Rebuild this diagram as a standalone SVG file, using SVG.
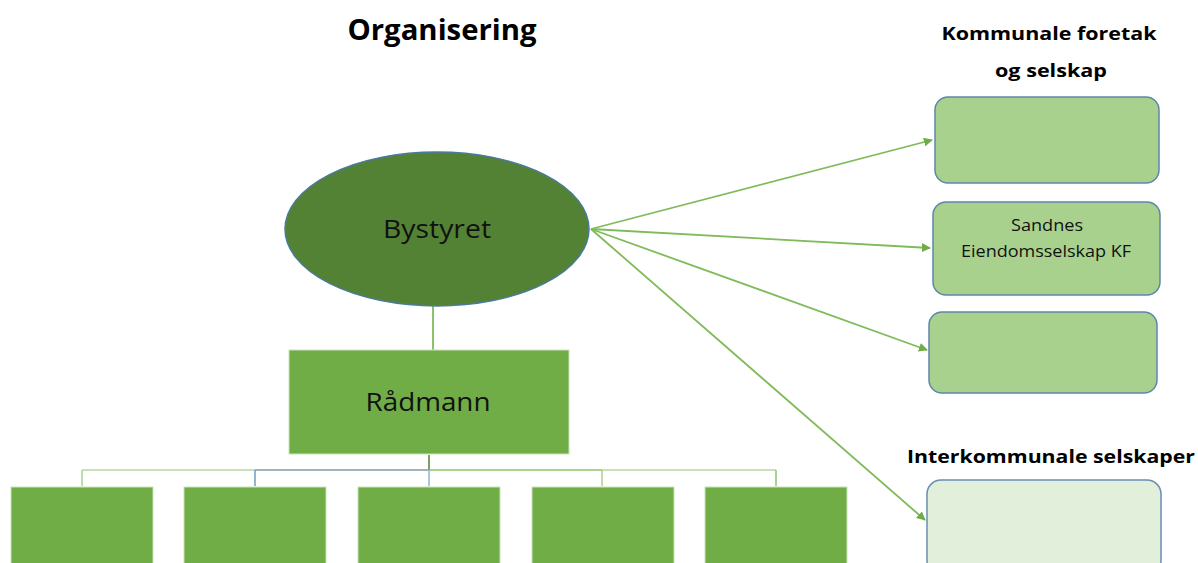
<svg xmlns="http://www.w3.org/2000/svg" width="1198" height="563" viewBox="0 0 1198 563">
  <defs>
    <marker id="arrow" viewBox="0 0 10 10" refX="9" refY="5" markerWidth="9" markerHeight="9" orient="auto" markerUnits="userSpaceOnUse">
      <path d="M0,0 L10,5 L0,10 z" fill="#70ad47"/>
    </marker>
    <style>
      .title { font-family: "Open Sans", "Liberation Sans", sans-serif; font-weight: bold; fill: #000; text-anchor: middle; }
      .label { font-family: "Open Sans", "Liberation Sans", sans-serif; fill: #111; text-anchor: middle; }
      .unit { fill: #a9d18e; stroke: #5f86aa; stroke-width: 1.5; }
      .unit-light { fill: #e2efda; stroke: #6a8fb0; stroke-width: 1.5; }
      .dept { fill: #70ad47; stroke: #c9e3b7; stroke-width: 1; }
      .link { stroke: #7fbb5a; stroke-width: 1.8; fill: none; }
      .bus { stroke-width: 1.5; fill: none; }
    </style>
  </defs>

  <rect width="1198" height="563" fill="#ffffff"/>

  <!-- headings -->
  <text class="title" x="442" y="40" font-size="28" textLength="189" lengthAdjust="spacingAndGlyphs">Organisering</text>
  <text class="title" x="1049" y="40" font-size="18" textLength="215" lengthAdjust="spacingAndGlyphs">Kommunale foretak</text>
  <text class="title" x="1051" y="77" font-size="18" textLength="112" lengthAdjust="spacingAndGlyphs">og selskap</text>
  <text class="title" x="1051" y="463" font-size="18" textLength="288" lengthAdjust="spacingAndGlyphs">Interkommunale selskaper</text>

  <!-- connectors -->
  <g id="connectors">
    <line class="link" x1="433" y1="306" x2="433" y2="350" stroke="#70ad47"/>
    <line class="link" x1="591" y1="229" x2="932" y2="140" marker-end="url(#arrow)"/>
    <line class="link" x1="591" y1="229" x2="930" y2="248" marker-end="url(#arrow)"/>
    <line class="link" x1="591" y1="229" x2="927" y2="350" marker-end="url(#arrow)"/>
    <line class="link" x1="591" y1="229" x2="925" y2="520" marker-end="url(#arrow)"/>
    <!-- staff bus below Rådmann -->
    <line class="bus" x1="429" y1="455" x2="429" y2="470" stroke="#548235"/>
    <line class="bus" x1="82" y1="470" x2="255" y2="470" stroke="#b5d8a0"/>
    <line class="bus" x1="255" y1="470" x2="429" y2="470" stroke="#7f9fa3"/>
    <line class="bus" x1="429" y1="470" x2="602" y2="470" stroke="#8cc26c"/>
    <line class="bus" x1="602" y1="470" x2="776" y2="470" stroke="#b5d8a0"/>
    <line class="bus" x1="82" y1="470" x2="82" y2="486" stroke="#a9d18e"/>
    <line class="bus" x1="255" y1="470" x2="255" y2="486" stroke="#6f9cc4"/>
    <line class="bus" x1="429" y1="470" x2="429" y2="486" stroke="#8fb4d4"/>
    <line class="bus" x1="602" y1="470" x2="602" y2="486" stroke="#a9d18e"/>
    <line class="bus" x1="776" y1="470" x2="776" y2="486" stroke="#8cc26c"/>
  </g>

  <g id="bystyret">
    <ellipse cx="437" cy="229" rx="152" ry="77" fill="#548235" stroke="#4a7a9c" stroke-width="1.5"/>
    <text class="label" x="437" y="238" font-size="25" textLength="108" lengthAdjust="spacingAndGlyphs">Bystyret</text>
  </g>

  <g id="radmann">
    <rect x="289" y="350" width="280" height="104" fill="#70ad47" stroke="#c9e3b7" stroke-width="1"/>
    <text class="label" x="428" y="411" font-size="26" textLength="125" lengthAdjust="spacingAndGlyphs">Rådmann</text>
  </g>

  <g id="dept-1"><rect class="dept" x="11" y="487" width="142" height="80"/></g>
  <g id="dept-2"><rect class="dept" x="184" y="487" width="142" height="80"/></g>
  <g id="dept-3"><rect class="dept" x="358" y="487" width="142" height="80"/></g>
  <g id="dept-4"><rect class="dept" x="532" y="487" width="142" height="80"/></g>
  <g id="dept-5"><rect class="dept" x="705" y="487" width="142" height="80"/></g>

  <g id="foretak-1">
    <rect class="unit" x="935" y="97" width="224" height="86" rx="13"/>
  </g>
  <g id="foretak-sef">
    <rect class="unit" x="933" y="202" width="227" height="93" rx="13"/>
    <text class="label" x="1047" y="231" font-size="16" textLength="72" lengthAdjust="spacingAndGlyphs">Sandnes</text>
    <text class="label" x="1046" y="257" font-size="16" textLength="170" lengthAdjust="spacingAndGlyphs">Eiendomsselskap KF</text>
  </g>
  <g id="foretak-3">
    <rect class="unit" x="929" y="312" width="228" height="81" rx="13"/>
  </g>
  <g id="iks">
    <rect class="unit-light" x="927" y="480" width="234" height="95" rx="14"/>
  </g>
</svg>
